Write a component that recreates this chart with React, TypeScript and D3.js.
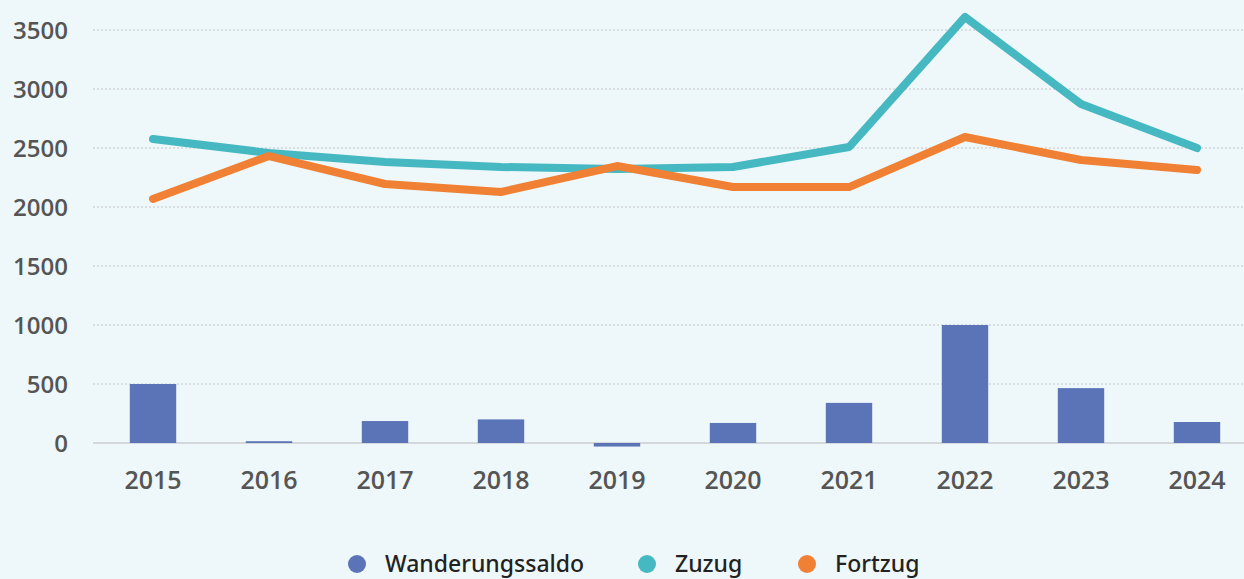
import React from 'react';
import * as d3 from 'd3';

const years = ['2015', '2016', '2017', '2018', '2019', '2020', '2021', '2022', '2023', '2024'];
const saldo = [500, 15, 186, 200, -30, 170, 340, 1000, 465, 178];
const zuzug = [2576, 2458, 2381, 2339, 2322, 2339, 2508, 3610, 2873, 2500];
const fortzug = [2068, 2432, 2195, 2127, 2347, 2169, 2169, 2593, 2398, 2314];
const yTicks = [0, 500, 1000, 1500, 2000, 2500, 3000, 3500];

const W = 1244;
const H = 579;
const BG = '#eef7f9';
const C_SALDO = '#5b74b8';
const C_ZU = '#45b8c2';
const C_FORT = '#f08034';

export default function App() {
  const x = d3.scaleBand<string>().domain(years).range([95, 1255]).paddingInner(0.6).paddingOuter(0.3);
  const y = d3.scaleLinear().domain([0, 3500]).range([443, 30]);
  const cx = (d: string) => (x(d) ?? 0) + x.bandwidth() / 2;

  const line = d3
    .line<number>()
    .x((_, i) => cx(years[i]))
    .y((v) => y(v));

  const legend = [
    { label: 'Wanderungssaldo', color: C_SALDO, x: 357 },
    { label: 'Zuzug', color: C_ZU, x: 647 },
    { label: 'Fortzug', color: C_FORT, x: 807 },
  ];

  return (
    <svg width={W} height={H} style={{ position: 'absolute', left: 0, top: 0, background: BG }}>
      <rect width={W} height={H} fill={BG} />
      {yTicks.map((t) => (
        <g key={t}>
          {t !== 0 && (
            <line x1={93} x2={W} y1={y(t)} y2={y(t)} stroke="#d2d6d8" strokeWidth={1.5} strokeDasharray="2 2" />
          )}
          <text
            x={68}
            y={y(t)}
            dy="0.36em"
            textAnchor="end"
            fontFamily="'Open Sans', sans-serif"
            fontWeight={600}
            fontSize={24}
            fill="#555"
          >
            {t}
          </text>
        </g>
      ))}
      <line x1={93} x2={W} y1={y(0)} y2={y(0)} stroke="#d4d8da" strokeWidth={2} />
      {years.map((yr, i) => (
        <rect
          key={yr}
          x={x(yr)}
          y={saldo[i] >= 0 ? y(saldo[i]) : y(0)}
          width={x.bandwidth()}
          height={Math.abs(y(saldo[i]) - y(0))}
          fill={C_SALDO}
        />
      ))}
      <path d={line(zuzug) ?? ''} fill="none" stroke={C_ZU} strokeWidth={8} strokeLinejoin="round" strokeLinecap="round" />
      <path d={line(fortzug) ?? ''} fill="none" stroke={C_FORT} strokeWidth={8} strokeLinejoin="round" strokeLinecap="round" />
      {years.map((yr) => (
        <text
          key={yr}
          x={cx(yr)}
          y={480}
          dy="0.36em"
          textAnchor="middle"
          fontFamily="'Open Sans', sans-serif"
          fontWeight={600}
          fontSize={25}
          fill="#555"
        >
          {yr}
        </text>
      ))}
      {legend.map((l) => (
        <g key={l.label}>
          <circle cx={l.x} cy={564} r={9} fill={l.color} />
          <text
            x={l.x + 28}
            y={564}
            dy="0.34em"
            fontFamily="'Noto Sans', sans-serif"
            fontWeight={500}
            fontSize={23}
            fill="#222"
          >
            {l.label}
          </text>
        </g>
      ))}
    </svg>
  );
}
